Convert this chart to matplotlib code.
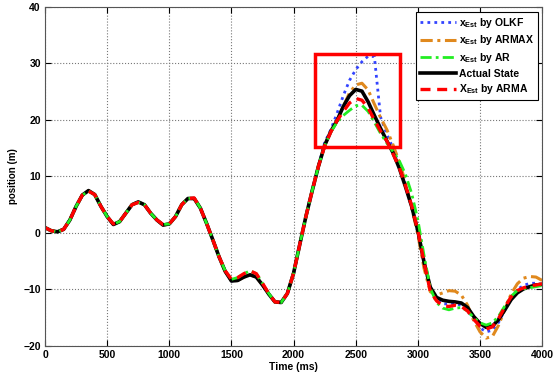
import matplotlib
matplotlib.use("Agg")
import matplotlib.pyplot as plt
from matplotlib.patches import Rectangle
from matplotlib.lines import Line2D

plt.rcParams['font.family'] = ['Liberation Sans', 'DejaVu Sans']
plt.rcParams['mathtext.fontset'] = 'custom'
plt.rcParams['mathtext.rm'] = 'Liberation Sans'
plt.rcParams['mathtext.bf'] = 'Liberation Sans:bold'

time_ms = list(range(0, 4001, 50))

actual = [0.95, 0.4, 0.2, 0.65, 2.3, 4.7, 6.7, 7.5, 6.8, 4.7,
          2.9, 1.5, 2.0, 3.5, 5.0, 5.5, 5.0, 3.5, 2.3, 1.4,
          1.6, 2.9, 5.0, 6.1, 6.1, 4.4, 1.7, -1.2, -4.2, -6.8,
          -8.5, -8.4, -7.8, -7.4, -7.8, -9.2, -10.8, -12.2, -12.3, -10.7,
          -7.1, -2.0, 3.0, 7.5, 11.8, 15.5, 18.0, 19.9, 22.4, 24.3,
          25.4, 25.1, 23.2, 20.8, 18.5, 16.3, 14.2, 11.5, 8.2, 4.7,
          0.4, -5.2, -9.6, -11.4, -11.9, -12.1, -12.2, -12.4, -13.2, -14.8,
          -16.0, -16.7, -16.5, -15.3, -13.6, -11.8, -10.6, -9.9, -9.5, -9.2,
          -9.1]

arma = [0.95, 0.4, 0.2, 0.65, 2.3, 4.7, 6.7, 7.4, 6.8, 4.7,
        2.9, 1.6, 2.0, 3.5, 5.0, 5.4, 5.0, 3.5, 2.3, 1.5,
        1.6, 2.9, 5.0, 6.1, 6.2, 4.4, 1.7, -1.2, -4.2, -6.7,
        -8.2, -7.9, -7.2, -6.7, -7.2, -8.9, -10.7, -12.2, -12.3, -10.7,
        -7.1, -2.0, 3.0, 7.5, 11.8, 15.4, 17.9, 19.9, 21.5, 23.0,
        23.8, 23.5, 22.1, 20.0, 18.0, 16.3, 14.0, 11.6, 8.4, 4.8,
        0.4, -5.2, -10.3, -12.0, -12.9, -13.0, -12.8, -13.0, -13.8, -15.3,
        -16.5, -17.0, -16.6, -15.1, -13.1, -11.3, -10.2, -9.7, -9.4, -9.2,
        -9.0]

ar = [0.95, 0.4, 0.2, 0.65, 2.3, 4.7, 6.7, 7.4, 6.8, 4.7,
      2.9, 1.6, 2.0, 3.5, 5.0, 5.4, 5.0, 3.5, 2.3, 1.5,
      1.6, 2.9, 5.0, 6.1, 6.2, 4.4, 1.7, -1.2, -4.2, -6.7,
      -8.2, -7.9, -7.2, -6.7, -7.2, -8.9, -10.7, -12.2, -12.3, -10.7,
      -7.1, -2.0, 3.0, 7.5, 11.8, 15.4, 17.9, 19.6, 20.8, 21.7,
      22.5, 22.6, 21.5, 19.6, 17.6, 15.9, 14.4, 12.8, 10.4, 7.0,
      2.3, -4.0, -9.8, -12.3, -13.3, -13.6, -13.3, -13.2, -13.8, -15.0,
      -15.9, -16.3, -15.9, -14.7, -12.9, -11.2, -10.2, -9.9, -9.7, -9.5,
      -9.3]

olkf = [0.95, 0.4, 0.2, 0.65, 2.3, 4.7, 6.7, 7.5, 6.8, 4.7,
        2.9, 1.5, 2.0, 3.5, 5.0, 5.5, 5.0, 3.5, 2.3, 1.4,
        1.6, 2.9, 5.0, 6.1, 6.1, 4.4, 1.7, -1.2, -4.2, -6.8,
        -8.5, -8.4, -7.8, -7.4, -7.8, -9.2, -10.8, -12.2, -12.3, -10.7,
        -7.1, -2.0, 3.0, 7.5, 11.8, 16.0, 18.3, 21.2, 24.3, 27.0,
        28.9, 30.3, 31.3, 31.2, 20.5, 17.5, 15.0, 12.0, 8.5, 4.5,
        0.0, -5.5, -10.0, -11.8, -12.5, -12.6, -12.5, -12.8, -13.7, -15.4,
        -16.8, -17.5, -17.2, -15.8, -13.6, -11.5, -10.0, -9.3, -8.9, -8.9,
        -9.1]

armax = [0.95, 0.4, 0.2, 0.65, 2.3, 4.7, 6.7, 7.5, 6.8, 4.7,
         2.9, 1.5, 2.0, 3.5, 5.0, 5.5, 5.0, 3.5, 2.3, 1.4,
         1.6, 2.9, 5.0, 6.1, 6.1, 4.4, 1.7, -1.2, -4.2, -6.8,
         -8.5, -8.4, -7.8, -7.4, -7.8, -9.2, -10.8, -12.2, -12.3, -10.7,
         -7.1, -2.0, 3.0, 7.5, 11.8, 15.5, 18.0, 19.9, 22.4, 24.8,
         26.2, 26.5, 25.3, 22.8, 20.4, 18.3, 15.6, 12.6, 9.0, 4.5,
         -0.3, -6.3, -10.4, -11.0, -10.6, -10.2, -10.3, -11.0, -12.8, -15.5,
         -17.5, -18.6, -18.3, -16.3, -13.5, -10.8, -9.0, -8.0, -7.7, -7.8,
         -8.4]

x_ticks = list(range(0, 4001, 500))
y_ticks = list(range(-20, 41, 10))
highlight_t = (2170, 2855)
highlight_y = (15.3, 31.7)

fig = plt.figure(figsize=(5.53, 3.73), dpi=100)
ax = fig.add_axes([0.0814, 0.0724, 0.899, 0.909])

l_olkf, = ax.plot(time_ms, olkf, color='#3344ff', linestyle=(0, (1, 1.5)), linewidth=2.0)
l_armax, = ax.plot(time_ms, armax, color='#e0891e', linestyle=(0, (4, 1.5, 1, 1.5)), linewidth=2.2)
l_act, = ax.plot(time_ms, actual, color='black', linestyle='-', linewidth=2.6)
l_ar, = ax.plot(time_ms, ar, color='#22ee22', linestyle=(0, (4, 1.5, 1, 1.5)), linewidth=2.0)
l_arma, = ax.plot(time_ms, arma, color='#ff0000', linestyle=(0, (3, 2)), linewidth=2.4)

ax.add_patch(Rectangle((highlight_t[0], highlight_y[0]), highlight_t[1] - highlight_t[0],
                       highlight_y[1] - highlight_y[0], fill=False, edgecolor='#ff0000',
                       linewidth=2.5, zorder=5))

ax.set_xlim(0, 4000)
ax.set_ylim(-20, 40)
ax.set_xticks(x_ticks)
ax.set_yticks(y_ticks)
ax.grid(True, linestyle=':', color='#777777', linewidth=0.8)
ax.tick_params(direction='in', top=True, right=True, length=4, labelsize=7.5, pad=3)
for lab in ax.get_xticklabels() + ax.get_yticklabels():
    lab.set_fontweight('bold')
for s in ax.spines.values():
    s.set_color('#555555')
ax.set_xlabel('Time (ms)', fontsize=7.5, fontweight='bold', labelpad=1)
ax.set_ylabel('position (m)', fontsize=7, fontweight='bold', labelpad=4)

handles = [l_olkf, l_armax, l_ar, l_act, l_arma]
labels = [r'x$_{\mathbf{Est}}$ by OLKF', r'x$_{\mathbf{Est}}$ by ARMAX',
          r'x$_{\mathbf{Est}}$ by AR', 'Actual State', r'X$_{\mathbf{Est}}$ by ARMA']
leg = ax.legend(handles, labels, loc='upper right', bbox_to_anchor=(0.992, 0.985),
                borderaxespad=0, fancybox=False, edgecolor='black', framealpha=1,
                prop={'size': 7.5, 'weight': 'bold'}, handlelength=3.5,
                labelspacing=0.35, handletextpad=0.3, borderpad=0.35)
leg.get_frame().set_linewidth(0.8)
leg.set_zorder(10)

fig.savefig('out.png', dpi=100)
